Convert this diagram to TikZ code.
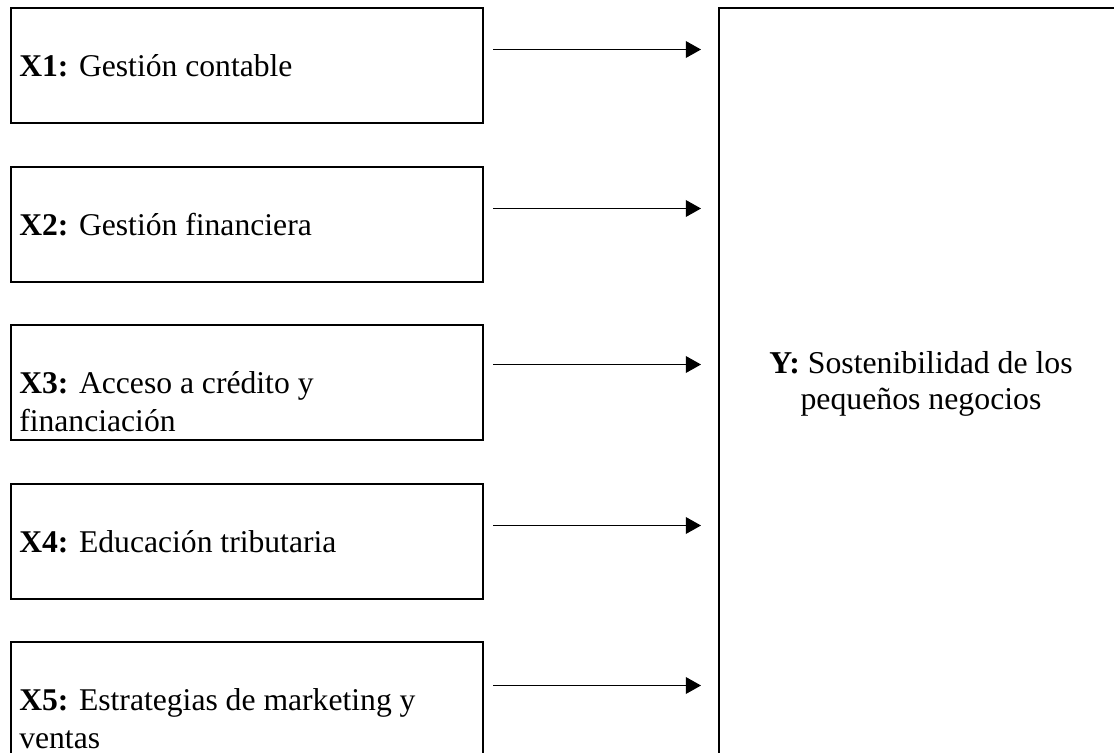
\documentclass[tikz,border=0pt]{standalone}
\usepackage{fontspec}
\setmainfont{Liberation Serif}
\usetikzlibrary{arrows.meta}
\begin{document}
\begin{tikzpicture}[x=0.025cm, y=-0.025cm,
  varbox/.style={draw, line width=1.4pt, rectangle, inner sep=0pt, anchor=north west,
    minimum width=11.8cm, minimum height=2.875cm},
  varlbl/.style={anchor=base west, align=left, inner sep=0pt,
    font=\fontsize{22.5pt}{26.5pt}\selectfont},
  ylbl/.style={anchor=base, align=center, inner sep=0pt,
    font=\fontsize{22.6pt}{24.9pt}\selectfont},
  arr/.style={line width=0.7pt, -{Triangle[length=0.38cm, width=0.42cm]},
    shorten <=0.225cm, shorten >=0.425cm}]
\useasboundingbox (0,0) rectangle (1114,752);
\clip (0,0) rectangle (1114,752);
% Boxes
\node[varbox] (x1) at (10,7) {};
\node[varbox] (x2) at (10,166) {};
\node[varbox] (x3) at (10,324) {};
\node[varbox] (x4) at (10,483) {};
\node[varbox] (x5) at (10,641) {};
\node[varbox, minimum width=10.15cm, minimum height=20cm] (y) at (718,7) {};
% Labels (base = last line)
\node[varlbl] (t1) at (19,76) {\textbf{X1:} Gestión contable};
\node[varlbl] (t2) at (19,235) {\textbf{X2:} Gestión financiera};
\node[varlbl] (t3) at (19,431) {\textbf{X3:} Acceso a crédito y\\financiación};
\node[varlbl] (t4) at (19,552) {\textbf{X4:} Educación tributaria};
\node[varlbl] (t5) at (19,748) {\textbf{X5:} Estrategias de marketing y\\ventas};
\node[ylbl] (ty) at (921,409) {\textbf{Y:} Sostenibilidad de los\\pequeños negocios};
% Arrows
\draw[arr] ([yshift=0.4cm]x1.east) -- ([yshift=0.4cm]x1.east -| y.west);
\draw[arr] ([yshift=0.4cm]x2.east) -- ([yshift=0.4cm]x2.east -| y.west);
\draw[arr] ([yshift=0.45cm]x3.east) -- ([yshift=0.45cm]x3.east -| y.west);
\draw[arr] ([yshift=0.4cm]x4.east) -- ([yshift=0.4cm]x4.east -| y.west);
\draw[arr] ([yshift=0.35cm]x5.east) -- ([yshift=0.35cm]x5.east -| y.west);
\end{tikzpicture}
\end{document}
